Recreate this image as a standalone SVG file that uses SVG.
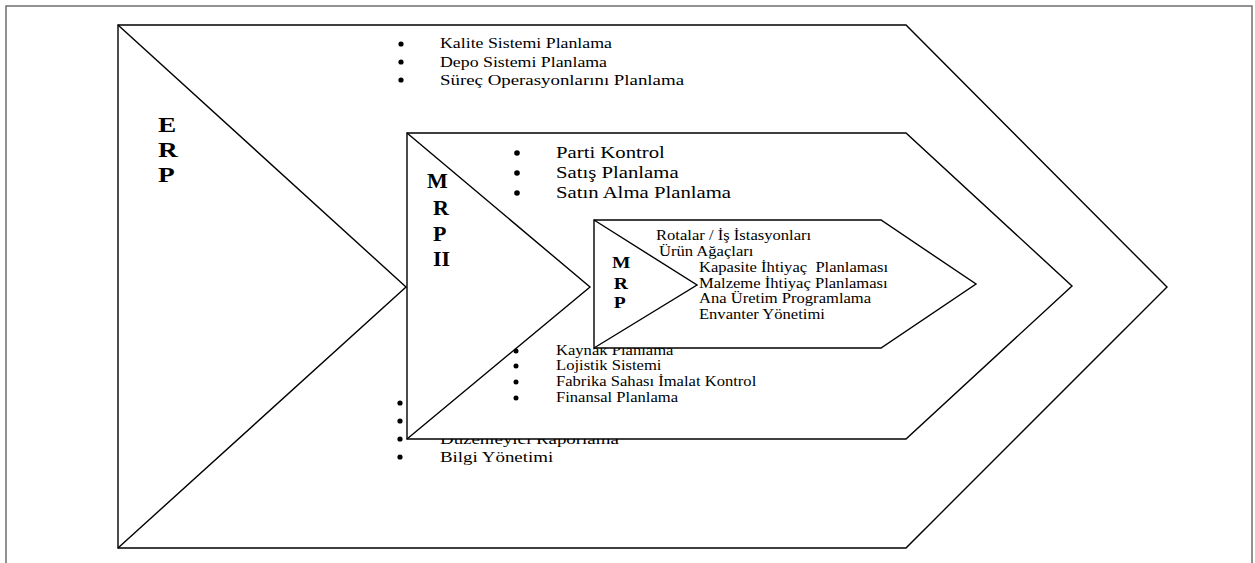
<svg xmlns="http://www.w3.org/2000/svg" width="1255" height="563" viewBox="0 0 1255 563">
<style>
.frame{fill:#fff;stroke:#6e6e6e;stroke-width:1.5}
.shape{fill:#fff;stroke:#000;stroke-width:1.4;stroke-linejoin:miter}
.diag{fill:none;stroke:#000;stroke-width:1.4}
.t{font-family:"Liberation Serif","Times New Roman",serif;fill:#000;white-space:pre}
.lbl{font-family:"Liberation Serif","Times New Roman",serif;font-weight:bold;fill:#000}
.b{fill:#000}
</style>
<rect class="frame" x="6" y="6" width="1246" height="570"/>
<g id="connectors"/>
<g id="erp">
  <polygon class="shape" points="118,25 906,25 1167,287 906,548 118,548"/>
  <polyline class="diag" points="118,25 406,287 118,548"/>
  <g class="lbl" font-size="21" transform="translate(158,0) scale(1.3,1)">
    <text x="0" y="132">E</text>
    <text x="0" y="157">R</text>
    <text x="0" y="182">P</text>
  </g>
  <g class="b">
    <circle cx="401" cy="44" r="2.6"/>
    <circle cx="401" cy="62" r="2.6"/>
    <circle cx="401" cy="80" r="2.6"/>
    <circle cx="400" cy="403" r="2.6"/>
    <circle cx="400" cy="421" r="2.6"/>
    <circle cx="400" cy="439" r="2.6"/>
    <circle cx="400" cy="457" r="2.6"/>
  </g>
  <g class="t" font-size="14.6" transform="translate(440,0) scale(1.22,1)">
    <text x="0" y="48.5">Kalite Sistemi Planlama</text>
    <text x="0" y="67">Depo Sistemi Planlama</text>
    <text x="0" y="85.5" textLength="200" lengthAdjust="spacingAndGlyphs">Süreç Operasyonlarını Planlama</text>
  </g>
  <g class="t" font-size="15.5" transform="translate(440,0) scale(1.22,1)">
    <text x="0" y="444">Düzenleyici Raporlama</text>
    <text x="0" y="462">Bilgi Yönetimi</text>
  </g>
</g>
<g id="mrp2">
  <polygon class="shape" points="407,133 906,133 1072,286 906,439 407,439"/>
  <polyline class="diag" points="407,133 590,287 407,439"/>
  <g class="lbl" font-size="22">
    <text x="427" y="188">M</text>
    <text x="433" y="215">R</text>
    <text x="433" y="241">P</text>
    <text x="433" y="266">II</text>
  </g>
  <g class="b">
    <circle cx="517" cy="153" r="2.8"/>
    <circle cx="517" cy="173" r="2.8"/>
    <circle cx="517" cy="193" r="2.8"/>
    <circle cx="516" cy="351" r="2.5"/>
    <circle cx="516" cy="366" r="2.5"/>
    <circle cx="516" cy="382" r="2.5"/>
    <circle cx="516" cy="398" r="2.5"/>
  </g>
  <g class="t" font-size="17" transform="translate(556,0) scale(1.22,1)">
    <text x="0" y="158.5">Parti Kontrol</text>
    <text x="0" y="178.5">Satış Planlama</text>
    <text x="0" y="198.5">Satın Alma Planlama</text>
  </g>
  <g class="t" font-size="13.6" transform="translate(556,0) scale(1.22,1)">
    <text x="0" y="355.5">Kaynak Planlama</text>
    <text x="0" y="370.5">Lojistik Sistemi</text>
    <text x="0" y="386.5">Fabrika Sahası İmalat Kontrol</text>
    <text x="0" y="402.5">Finansal Planlama</text>
  </g>
</g>
<g id="mrp">
  <polygon class="shape" points="594,220 881,220 976,284 881,348 594,348"/>
  <polyline class="diag" points="594,220 697,285 594,348"/>
  <g class="lbl" font-size="17" transform="translate(612,0) scale(1.15,1)">
    <text x="0" y="268">M</text>
    <text x="1.5" y="289">R</text>
    <text x="1.5" y="308">P</text>
  </g>
  <g class="t" font-size="13.6" transform="translate(656,0) scale(1.22,1)">
    <text x="0" y="240">Rotalar / İş İstasyonları</text>
    <text x="2.5" y="256"> Ürün Ağaçları</text>
    <text x="35.2" y="272" xml:space="preserve">Kapasite İhtiyaç  Planlaması</text>
    <text x="35.2" y="288">Malzeme İhtiyaç Planlaması</text>
    <text x="35.2" y="303.5">Ana Üretim Programlama</text>
    <text x="35.2" y="319">Envanter Yönetimi</text>
  </g>
</g>
</svg>
